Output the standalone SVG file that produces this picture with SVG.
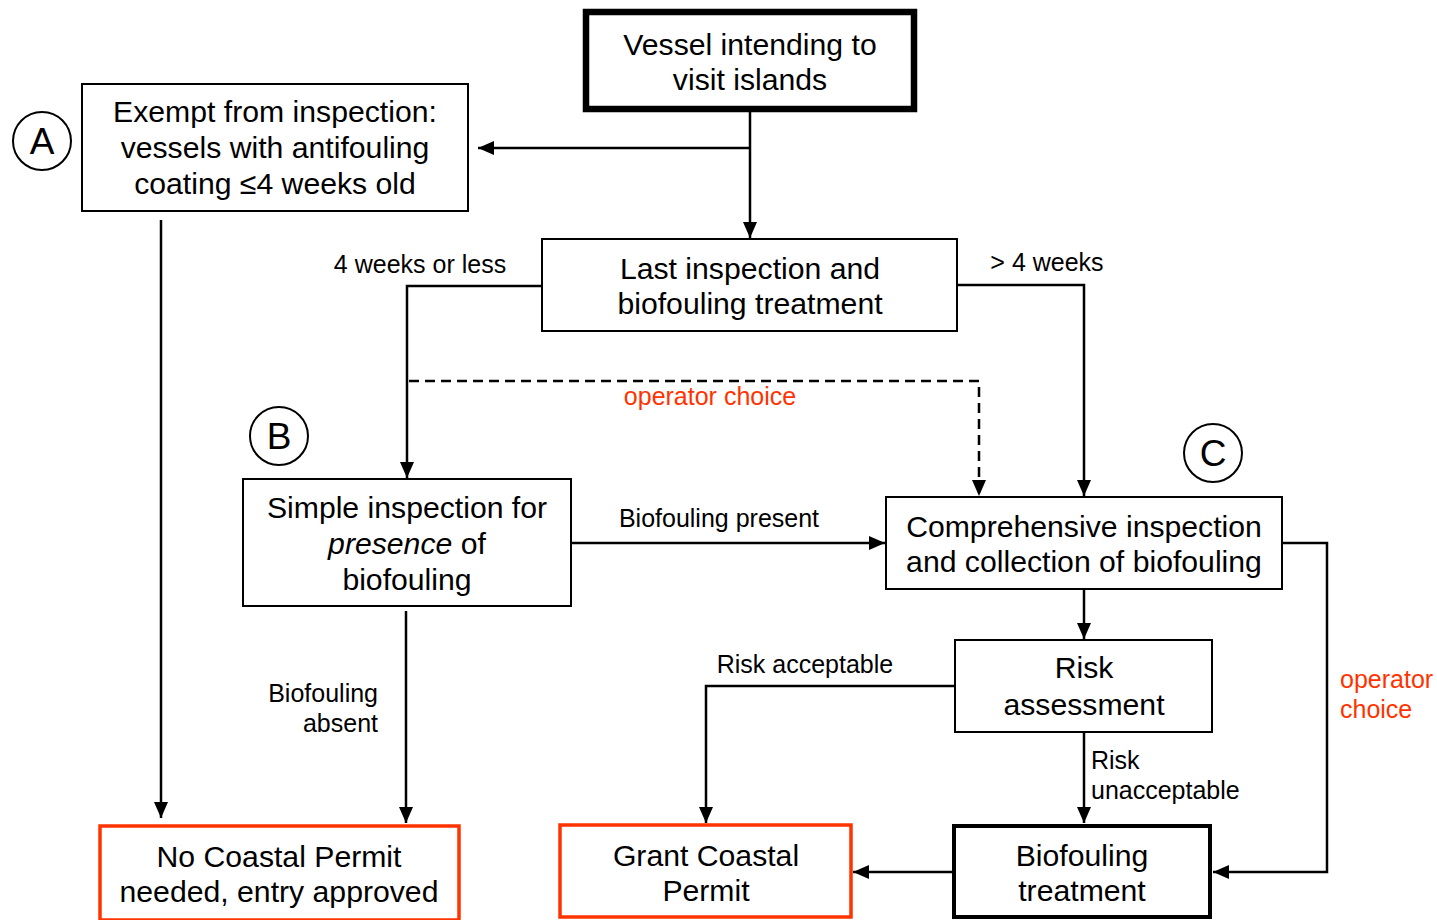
<svg xmlns="http://www.w3.org/2000/svg" width="1437" height="920" viewBox="0 0 1437 920">
<style>
.box{fill:#fff;stroke:#000;stroke-width:2}
.thick{fill:#fff;stroke:#000;stroke-width:6.5}
.bold{fill:#fff;stroke:#000;stroke-width:4}
.red{fill:#fff;stroke:#FF3300;stroke-width:3.5}
.t{font-family:"Liberation Sans",Arial,sans-serif;font-size:30.2px;fill:#000;text-anchor:middle}
.l{font-family:"Liberation Sans",Arial,sans-serif;font-size:25px;fill:#000}
.o{font-family:"Liberation Sans",Arial,sans-serif;font-size:25px;fill:#FF3300}
.c{fill:#fff;stroke:#000;stroke-width:2}
.ct{font-family:"Liberation Sans",Arial,sans-serif;font-size:37px;fill:#000;text-anchor:middle}
.cn{fill:none;stroke:#000;stroke-width:2.5}
.dash{stroke-dasharray:10 6}
</style>
<defs>
<marker id="ah" markerUnits="userSpaceOnUse" markerWidth="16" markerHeight="14" refX="16" refY="7" orient="auto">
<path d="M0,0 L16,7 L0,14 z" fill="#000"/>
</marker>
</defs>
<rect width="1437" height="920" fill="#fff"/>
<g id="connectors">
<path class="cn" d="M750,109 V238" marker-end="url(#ah)"/>
<path class="cn" d="M750,148 H478" marker-end="url(#ah)"/>
<path class="cn" d="M542,286 H407 V478" marker-end="url(#ah)"/>
<path class="cn" d="M957,285 H1084 V496" marker-end="url(#ah)"/>
<path class="cn dash" d="M409,381 H979 V496" marker-end="url(#ah)"/>
<path class="cn" d="M572,543 H885" marker-end="url(#ah)"/>
<path class="cn" d="M1084,589 V639" marker-end="url(#ah)"/>
<path class="cn" d="M955,686 H706 V823" marker-end="url(#ah)"/>
<path class="cn" d="M1084,732 V823" marker-end="url(#ah)"/>
<path class="cn" d="M953,872 H853" marker-end="url(#ah)"/>
<path class="cn" d="M1282,543 H1327 V872 H1213" marker-end="url(#ah)"/>
<path class="cn" d="M161,220 V818" marker-end="url(#ah)"/>
<path class="cn" d="M406,611 V823" marker-end="url(#ah)"/>
<text class="l" x="420" y="273" text-anchor="middle">4 weeks or less</text>
<text class="l" x="1047" y="271" text-anchor="middle">&gt; 4 weeks</text>
<text class="o" x="710" y="405" text-anchor="middle">operator choice</text>
<text class="l" x="719" y="527" text-anchor="middle">Biofouling present</text>
<text class="l" x="378" y="702" text-anchor="end">Biofouling</text>
<text class="l" x="378" y="732" text-anchor="end">absent</text>
<text class="l" x="805" y="673" text-anchor="middle">Risk acceptable</text>
<text class="l" x="1091" y="769">Risk</text>
<text class="l" x="1091" y="799">unacceptable</text>
<text class="o" x="1340" y="688">operator</text>
<text class="o" x="1340" y="718">choice</text>
</g>
<g id="vessel">
<rect class="thick" x="586" y="12" width="328" height="97"/>
<text class="t" x="750" y="55">Vessel intending to</text>
<text class="t" x="750" y="90">visit islands</text>
</g>
<g id="exempt">
<rect class="box" x="82" y="84" width="386" height="127"/>
<text class="t" x="275" y="122">Exempt from inspection:</text>
<text class="t" x="275" y="158">vessels with antifouling</text>
<text class="t" x="275" y="194">coating ≤4 weeks old</text>
</g>
<g id="circleA">
<circle class="c" cx="42" cy="141" r="29"/>
<text class="ct" x="42" y="154">A</text>
</g>
<g id="last">
<rect class="box" x="542" y="239" width="415" height="92"/>
<text class="t" x="750" y="279">Last inspection and</text>
<text class="t" x="750" y="314">biofouling treatment</text>
</g>
<g id="circleB">
<circle class="c" cx="279" cy="436" r="29"/>
<text class="ct" x="279" y="449">B</text>
</g>
<g id="circleC">
<circle class="c" cx="1213" cy="453" r="29"/>
<text class="ct" x="1213" y="466">C</text>
</g>
<g id="simple">
<rect class="box" x="243" y="479" width="328" height="127"/>
<text class="t" x="407" y="518">Simple inspection for</text>
<text class="t" x="407" y="554"><tspan font-style="italic">presence</tspan> of</text>
<text class="t" x="407" y="590">biofouling</text>
</g>
<g id="comprehensive">
<rect class="box" x="886" y="497" width="396" height="92"/>
<text class="t" x="1084" y="537">Comprehensive inspection</text>
<text class="t" x="1084" y="572">and collection of biofouling</text>
</g>
<g id="risk">
<rect class="box" x="955" y="640" width="257" height="92"/>
<text class="t" x="1084" y="678">Risk</text>
<text class="t" x="1084" y="715">assessment</text>
</g>
<g id="nopermit">
<rect class="red" x="100" y="826" width="359" height="94"/>
<text class="t" x="279" y="867">No Coastal Permit</text>
<text class="t" x="279" y="902">needed, entry approved</text>
</g>
<g id="grant">
<rect class="red" x="560" y="825" width="291" height="92"/>
<text class="t" x="706" y="866">Grant Coastal</text>
<text class="t" x="706" y="901">Permit</text>
</g>
<g id="treatment">
<rect class="bold" x="954" y="826" width="256" height="91"/>
<text class="t" x="1082" y="866">Biofouling</text>
<text class="t" x="1082" y="901">treatment</text>
</g>
</svg>
